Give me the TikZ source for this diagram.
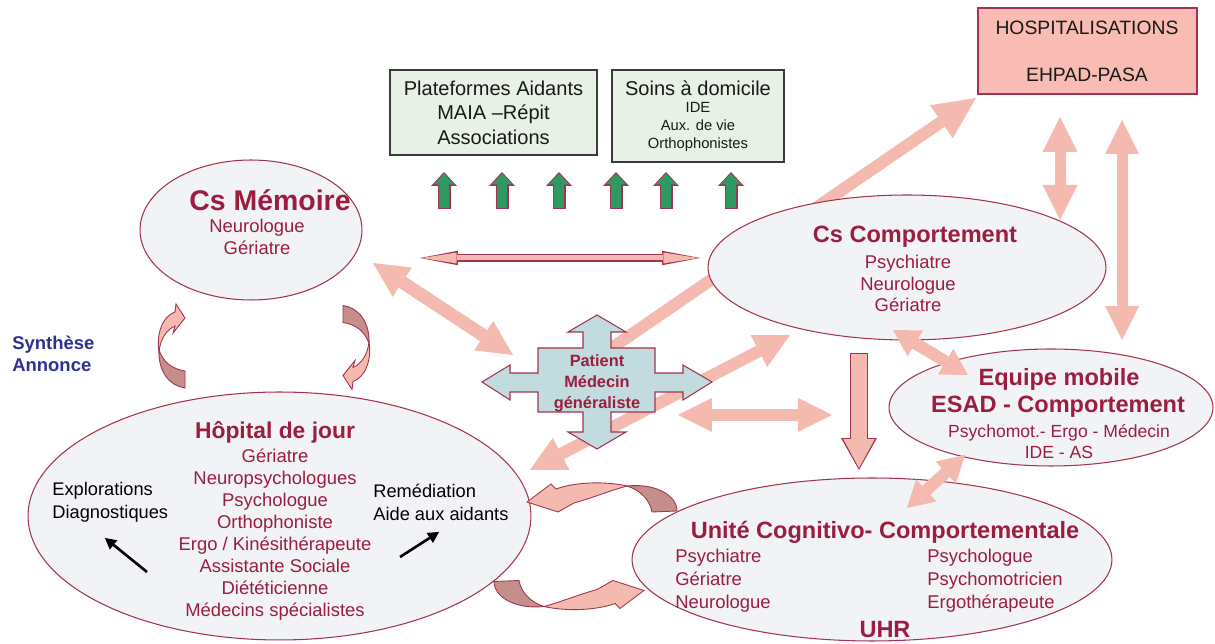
\documentclass[tikz,border=0pt]{standalone}
\usepackage{fontspec}
\setmainfont{Liberation Sans}
\usepackage{tikz}
\usetikzlibrary{arrows.meta, shapes.geometric}

\definecolor{TXTcolor}{HTML}{9B1D3F}
\definecolor{LINEcolor}{HTML}{A3344F}
\definecolor{PINKcolor}{HTML}{F4B9AF}
\definecolor{BANDcolor}{HTML}{C48F8B}
\definecolor{ELLcolor}{HTML}{F2F3F6}
\definecolor{GREENcolor}{HTML}{2F9963}
\definecolor{BOXcolor}{HTML}{E8F1E5}
\definecolor{HOSPcolor}{HTML}{F9BCB4}
\definecolor{CROSScolor}{HTML}{C2DBDF}
\definecolor{BLUEcolor}{HTML}{2E3192}
\definecolor{GRAYcolor}{HTML}{3A3A3A}

\begin{document}
\begin{tikzpicture}[x=0.02cm, y=-0.02cm]

    \tikzset{%
        ell/.style={ellipse, draw=LINEcolor, line width=0.6pt, fill=ELLcolor, inner sep=0pt},
        boxsize/.style 2 args={minimum width=#1, minimum height=#2, inner sep=0pt},
        eltitle/.style={text=TXTcolor, font=\bfseries\fontsize{13.4}{16}\selectfont, inner sep=0pt},
        staff/.style={text=TXTcolor, font=\fontsize{10.5}{#1}\selectfont, align=center, inner sep=0pt},
        sidenote/.style={text=black, font=\fontsize{10.4}{13}\selectfont, align=left, inner sep=0pt, anchor=west},
        boxtext/.style={text=black!90, font=\fontsize{11.4}{13.9}\selectfont, align=center, inner sep=0pt},
        pinkone/.style n args={3}{draw=PINKcolor, line width=#1, -{Triangle[length=#2, width=#3, line width=0pt]}},
        pinktwo/.style n args={3}{draw=PINKcolor, line width=#1, {Triangle[length=#2, width=#3, line width=0pt]}-{Triangle[length=#2, width=#3, line width=0pt]}},
        blackarrow/.style={draw=black, line width=1.5pt, -{Triangle[length=0.22cm, width=0.24cm, line width=0pt]}},
        pics/bandh/.style={%
                code={%
                        \filldraw[draw=LINEcolor, line width=0.5pt, fill=BANDcolor] (25,-12) .. controls (53,-15) and (75,-3) .. (75,13) -- (50,14) .. controls (48,2) and (38,-8) .. (25,-12) -- cycle;
                        \filldraw[draw=LINEcolor, line width=0.5pt, fill=PINKcolor] (25,-12) .. controls (3,-17) and (-27,-16) .. (-46,-9) -- (-51,-14) -- (-75,4) -- (-44,14) -- (-28,5) .. controls (-10,0) and (10,-8) .. (25,-12) -- cycle;
                    }
            },
        pics/bandv/.style={%
                code={%
                        \filldraw[draw=LINEcolor, line width=0.5pt, fill=BANDcolor] (-12,4) .. controls (-13,26) and (-1,40) .. (14,42) -- (14,25) .. controls (1,23) and (-8,16) .. (-12,4) -- cycle;
                        \filldraw[draw=LINEcolor, line width=0.5pt, fill=PINKcolor] (-12,6) .. controls (-15,-13) and (-8,-30) .. (4,-34) -- (5,-42) -- (14,-28) -- (2,-13) -- (4,-20) .. controls (-5,-16) and (-11,-6) .. (-12,6) -- cycle;
                    }
            },
    }

    \fill[white] (0,0) rectangle (1215,644);
    \useasboundingbox (0,0) rectangle (1215,644);

    \coordinate (hospA) at (600,356);
    \coordinate (hospB) at (976,98);
    \coordinate (diagA) at (530,470);
    \coordinate (diagB) at (790,335);
    \draw[pinkone={0.24cm}{0.84cm}{0.8cm}] (hospA) -- (hospB);
    \draw[pinktwo={0.24cm}{0.7cm}{0.72cm}] (diagA) -- (diagB);

    \node[ell, boxsize={4.44cm}{2.8cm}] (memoire) at (251,230) {};
    \node[ell, boxsize={10.06cm}{4.96cm}] (hdj) at (279.5,516) {};
    \node[ell, boxsize={7.96cm}{2.9cm}] (comport) at (907,267.5) {};
    \node[ell, boxsize={6.48cm}{2.34cm}] (esad) at (1051,407.5) {};
    \node[ell, boxsize={9.6cm}{3.26cm}] (ucc) at (872,559.5) {};

    \node[draw=GRAYcolor, line width=0.7pt, fill=BOXcolor, boxsize={4.14cm}{1.7cm}] (plat) at (493.5,112.5) {};
    \node[draw=GRAYcolor, line width=0.7pt, fill=BOXcolor, boxsize={3.44cm}{1.84cm}] (soins) at (698,116) {};
    \node[draw=LINEcolor, line width=0.7pt, fill=HOSPcolor, boxsize={4.38cm}{1.72cm}] (hospit) at (1087.5,51) {};

    \coordinate (memA) at (420,258);
    \coordinate (memB) at (700,258);
    \draw[draw=LINEcolor, line width=0.15cm, {Triangle[length=0.76cm, width=0.29cm, line width=0pt]}-{Triangle[length=0.76cm, width=0.29cm, line width=0pt]}] (memA) -- (memB);
    \draw[draw=PINKcolor, line width=0.1cm, shorten <=0.035cm, shorten >=0.035cm, {Triangle[length=0.7cm, width=0.22cm, line width=0pt]}-{Triangle[length=0.7cm, width=0.22cm, line width=0pt]}] (memA) -- (memB);

    \coordinate (patA) at (373,263);
    \coordinate (patB) at (513,355);
    \draw[pinktwo={0.26cm}{0.7cm}{0.7cm}] (patA) -- (patB);

    \coordinate (midA) at (678,415);
    \coordinate (midB) at (832,415);
    \draw[pinktwo={0.24cm}{0.68cm}{0.68cm}] (midA) -- (midB);

    \coordinate (downA) at (859,353);
    \coordinate (downB) at (859,470);
    \draw[draw=LINEcolor, line width=0.36cm, -{Triangle[length=0.64cm, width=0.72cm, line width=0pt]}] (downA) -- (downB);
    \draw[draw=PINKcolor, line width=0.31cm, shorten <=0.025cm, shorten >=0.04cm, -{Triangle[length=0.58cm, width=0.63cm, line width=0pt]}] (downA) -- (downB);

    \coordinate (esadA) at (893,330);
    \coordinate (esadB) at (968,375);
    \draw[pinktwo={0.24cm}{0.52cm}{0.6cm}] (esadA) -- (esadB);

    \coordinate (uccA) at (965,455);
    \coordinate (uccB) at (907,508);
    \draw[pinktwo={0.24cm}{0.52cm}{0.6cm}] (uccA) -- (uccB);

    \coordinate (vertA) at (1060,117);
    \coordinate (vertB) at (1060,220);
    \draw[pinktwo={0.22cm}{0.7cm}{0.7cm}] (vertA) -- (vertB);

    \coordinate (longA) at (1122,120);
    \coordinate (longB) at (1122,340);
    \draw[pinktwo={0.22cm}{0.68cm}{0.68cm}] (longA) -- (longB);

    \filldraw[fill=CROSScolor, draw=LINEcolor, line width=0.6pt]
    (597,315) -- (626,332) -- (611,332) -- (611,348) -- (655,348) -- (655,373) -- (683,373) -- (683,365) -- (712,382) -- (683,400) -- (683,392) -- (655,392) -- (655,412) -- (611,412) -- (611,432) -- (626,432) -- (597,449) -- (568,432) -- (583,432) -- (583,412) -- (538,412) -- (538,392) -- (510,392) -- (510,400) -- (482,382) -- (510,365) -- (510,373) -- (538,373) -- (538,348) -- (583,348) -- (583,332) -- (568,332) -- cycle;

    \foreach \gx in {444, 502, 559, 616, 666, 731} {%
            \draw[draw=LINEcolor, line width=0.26cm, -{Triangle[length=0.28cm, width=0.52cm, line width=0pt]}] (\gx,209) -- (\gx,172);
            \draw[draw=GREENcolor, line width=0.21cm, shorten <=0.025cm, shorten >=0.03cm, -{Triangle[length=0.22cm, width=0.42cm, line width=0pt]}] (\gx,209) -- (\gx,172);
        }

    \pic at (171,346) {bandv};
    \pic[rotate=180] at (357,347.5) {bandv};
    \pic at (602,498) {bandh};
    \pic[rotate=180] at (569,594.5) {bandh};

    \coordinate (exploA) at (147,572);
    \coordinate (exploB) at (105,538);
    \coordinate (remedA) at (400,557);
    \coordinate (remedB) at (439,532);
    \draw[blackarrow] (exploA) -- (exploB);
    \draw[blackarrow] (remedA) -- (remedB);

    \node[boxtext] (platt) at (plat.center) {Plateformes Aidants\\MAIA –Répit\\Associations};
    \node[boxtext] (soinst) at (698,88) {Soins à domicile};
    \node[boxtext, font=\fontsize{8.4}{10.5}\selectfont] (soinsl) at (698,127) {IDE\\Aux. de vie\\Orthophonistes};
    \node[boxtext, font=\fontsize{11}{13}\selectfont] (hospt) at (1087,28) {HOSPITALISATIONS};
    \node[boxtext, font=\fontsize{11}{13}\selectfont] (ehpad) at (1087,75) {EHPAD-PASA};

    \node[eltitle, font=\bfseries\fontsize{16.2}{19}\selectfont] (memoiret) at (270,200) {Cs Mémoire};
    \node[staff=12.5] (memoirel) at (257,237) {Neurologue\\Gériatre};

    \node[eltitle] (comportt) at (915,237) {Cs Comportement};
    \node[staff=12.2] (comportl) at (908,283.5) {Psychiatre\\Neurologue\\Gériatre};

    \node[eltitle, font=\bfseries\fontsize{13}{16}\selectfont] (hdjt) at (275,432) {Hôpital de jour};
    \node[staff=12.55] (hdjl) at (275,534.5) {Gériatre\\Neuropsychologues\\Psychologue\\Orthophoniste\\Ergo / Kinésithérapeute\\Assistante Sociale\\Diététicienne\\Médecins spécialistes};
    \node[sidenote] (explo) at (52,502.5) {Explorations\\Diagnostiques};
    \node[sidenote] (remed) at (373,502.5) {Remédiation\\Aide aux aidants};

    \node[eltitle] (esadt) at (1059,379) {Equipe mobile};
    \node[eltitle] (esadu) at (1058,407) {ESAD - Comportement};
    \node[staff=11.9, font=\fontsize{10}{11.9}\selectfont] (esadl) at (1059,441.5) {Psychomot.- Ergo - Médecin\\IDE - AS};

    \node[eltitle] (ucct) at (885,532) {Unité Cognitivo- Comportementale};
    \node[staff=13, align=left, anchor=west] (uccl) at (675,581) {Psychiatre\\Gériatre\\Neurologue};
    \node[staff=13, align=left, anchor=west] (uccr) at (927,581) {Psychologue\\Psychomotricien\\Ergothérapeute};
    \node[eltitle] (uhr) at (885,630) {UHR};

    \node[text=TXTcolor, font=\bfseries\fontsize{9.3}{11.9}\selectfont, align=center, inner sep=0pt] (patient) at (597,383) {Patient\\Médecin\\généraliste};

    \node[anchor=west, text=BLUEcolor, font=\bfseries\fontsize{10.5}{12.5}\selectfont, align=left, inner sep=0pt] (synth) at (12,354) {Synthèse\\Annonce};

\end{tikzpicture}
\end{document}
